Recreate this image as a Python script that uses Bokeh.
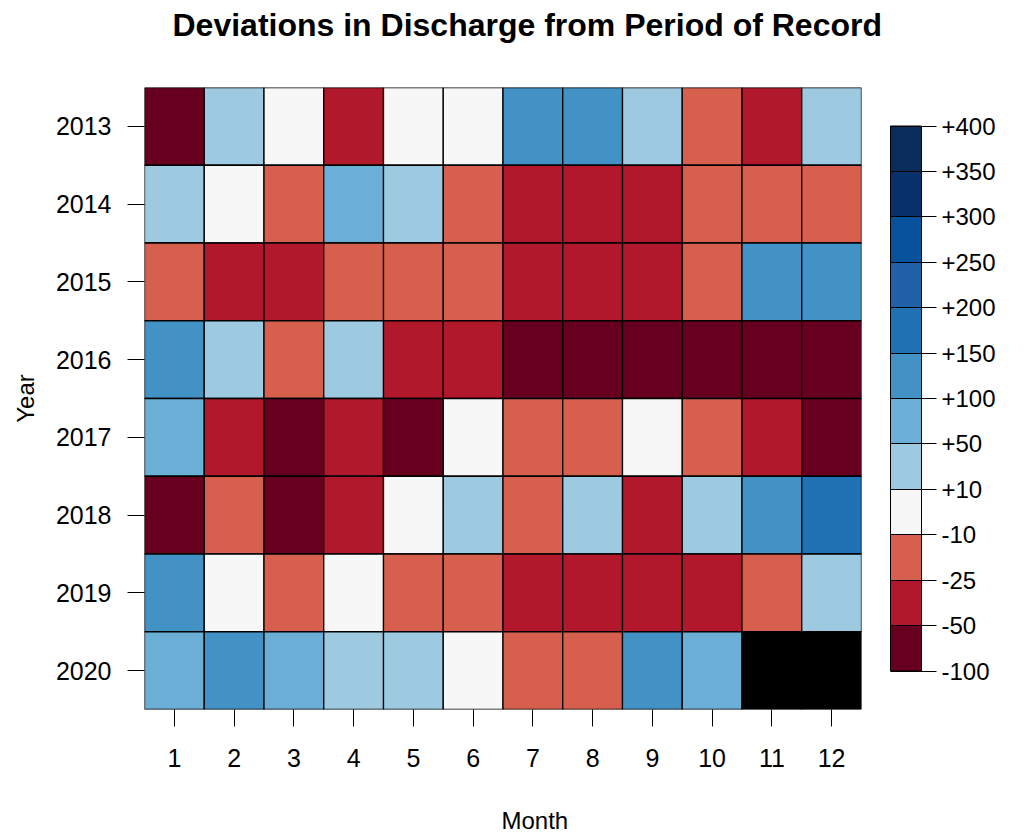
import numpy as np
from bokeh.plotting import figure
from bokeh.models import (ColumnDataSource, LinearColorMapper, ColorBar, FixedTicker,
                          Range1d, Title)
from bokeh.embed import file_html
from bokeh.resources import INLINE

months = list(range(1, 13))
years = list(range(2013, 2021))

# Deviation (%) from period of record, by year (rows) and month (columns)
dev_2013 = [-68, 28, 3, -36, -2, 4, 118, 126, 31, -17, -41, 22]
dev_2014 = [35, -5, -19, 64, 26, -16, -33, -37, -44, -21, -15, -18]
dev_2015 = [-20, -42, -39, -16, -14, -19, -35, -40, -31, -22, 131, 112]
dev_2016 = [108, 24, -23, 40, -29, -34, -55, -63, -71, -66, -60, -58]
dev_2017 = [83, -46, -74, -32, -57, 6, -12, -20, -3, -21, -28, -52]
dev_2018 = [-59, -13, -66, -44, 7, 19, -17, 37, -47, 15, 104, 172]
dev_2019 = [121, -6, -22, 2, -13, -11, -30, -27, -36, -45, -24, 33]
dev_2020 = [67, 137, 88, 45, 29, -8, -16, -19, 115, 76, np.nan, np.nan]

breaks = [-100, -50, -25, -10, 10, 50, 100, 150, 200, 250, 300, 350, 400]
break_labels = ["-100", "-50", "-25", "-10", "+10", "+50", "+100", "+150",
                "+200", "+250", "+300", "+350", "+400"]
palette = ["#67001F", "#B2182B", "#D6604D", "#F7F7F7", "#9ECAE1", "#6BAED6",
           "#4292C6", "#2171B5", "#2161A8", "#08519C", "#08306B", "#0A2D5E"]

rows = [dev_2013, dev_2014, dev_2015, dev_2016, dev_2017, dev_2018, dev_2019, dev_2020]
xs, ys, vals = [], [], []
for yr, row in zip(years, rows):
    for m, v in zip(months, row):
        xs.append(m)
        ys.append(yr)
        vals.append(v)
vals = np.array(vals, dtype=float)
idx = np.digitize(vals, breaks) - 1
binc = np.where(np.isnan(vals), np.nan, idx + 0.5)

source = ColumnDataSource(dict(month=xs, year=ys, dev=vals, binc=binc))
mapper = LinearColorMapper(palette=palette, low=0, high=len(palette), nan_color="black")

FONT = "Liberation Sans"

p = figure(width=1027, height=835, output_backend="svg", toolbar_location=None,
           x_range=Range1d(0.5, 12.5), y_range=Range1d(2020.5, 2012.5),
           min_border_left=144, min_border_right=166, min_border_top=87,
           min_border_bottom=126)

# spacer between frame and title, then the title itself (farther from the frame)
p.add_layout(Title(text=" ", text_font_size="1px", standoff=42), "above")
p.add_layout(Title(text="Deviations in Discharge from Period of Record", align="left",
                   offset=28, text_font_size="32px", text_font_style="bold",
                   text_font=FONT, text_color="black", standoff=0), "above")

p.rect(x="month", y="year", width=1, height=1, source=source,
       fill_color={"field": "binc", "transform": mapper},
       line_color="black", line_width=1.3)

p.grid.visible = False
p.outline_line_color = None
p.background_fill_color = "white"
p.border_fill_color = "white"

p.xaxis.ticker = FixedTicker(ticks=months)
p.yaxis.ticker = FixedTicker(ticks=years)
for ax in (p.xaxis[0], p.yaxis[0]):
    ax.axis_line_color = None
    ax.major_tick_in = 0
    ax.major_tick_out = 17
    ax.major_tick_line_color = "black"
    ax.minor_tick_line_color = None
    ax.major_label_text_font = FONT
    ax.major_label_text_font_size = "25px"
    ax.major_label_text_color = "black"
    ax.axis_label_text_font = FONT
    ax.axis_label_text_font_size = "24px"
    ax.axis_label_text_font_style = "normal"
    ax.axis_label_text_color = "black"
p.xaxis.major_label_standoff = 22
p.yaxis.major_label_standoff = 16
p.yaxis.axis_label = "Year"
p.yaxis.axis_label_standoff = 14
p.yaxis.major_label_orientation = "horizontal"

# spacer below the x axis, then the "Month" label
p.add_layout(Title(text=" ", text_font_size="1px", standoff=32), "below")
p.add_layout(Title(text="Month", align="left", offset=357, text_font_size="24px",
                   text_font_style="normal", text_font=FONT, text_color="black",
                   standoff=0), "below")

cb = ColorBar(color_mapper=mapper, ticker=FixedTicker(ticks=list(range(13))),
              major_label_overrides={i: lab for i, lab in enumerate(break_labels)},
              width=31, height=545, location="center_left",
              bar_line_color="black", bar_line_width=1,
              major_tick_line_color="black", major_tick_in=31, major_tick_out=15,
              minor_tick_line_color=None, label_standoff=5,
              major_label_text_font=FONT, major_label_text_font_size="24px",
              major_label_text_color="black",
              background_fill_color=None, border_line_color=None,
              padding=29, margin=0)
p.add_layout(cb, "right")

open("out.html", "w").write(file_html(p, INLINE))
